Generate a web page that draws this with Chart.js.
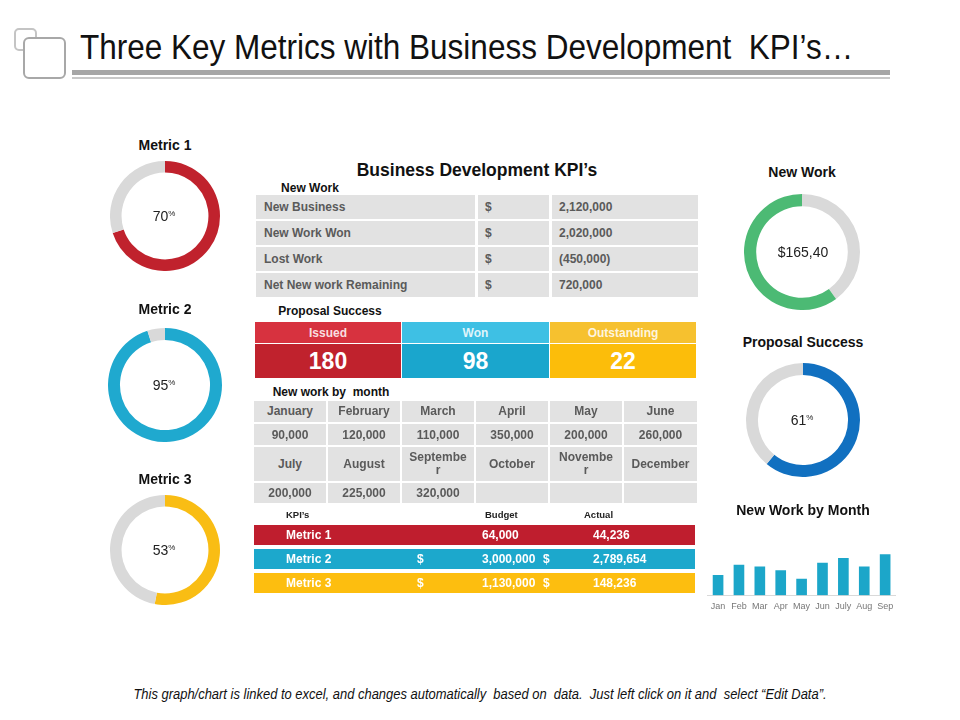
<!DOCTYPE html>
<html><head><meta charset="utf-8">
<script src="https://cdn.jsdelivr.net/npm/chart.js@4/dist/chart.umd.min.js"></script>
<style>
body{margin:0;width:960px;height:720px;background:#fff;position:relative;overflow:hidden;font-family:"Liberation Sans",Arial,sans-serif;}
.a{position:absolute;}
.cell{position:absolute;box-sizing:border-box;font-weight:bold;font-size:12px;color:#5a5a5a;display:flex;align-items:center;}
.lbl{position:absolute;font-weight:bold;color:#111;white-space:nowrap;transform:translate(-50%,-50%);}
.ctr{position:absolute;font-size:14px;color:#222;white-space:nowrap;transform:translate(-50%,-50%);}
.ctr sup{font-size:8px;vertical-align:5px;}
</style></head><body>
<div class="a" style="left:14px;top:28px;width:19px;height:19px;border:2px solid #c4c4c4;border-radius:5px;"></div>
<div class="a" style="left:23px;top:37px;width:39px;height:38px;border:2px solid #a8a8a8;border-radius:6px;background:#fff;"></div>
<div class="a" style="left:80px;top:27px;font-family:'Liberation Sans Narrow','Arial Narrow',sans-serif;font-size:35px;color:#111;white-space:nowrap;transform:scaleX(0.9);transform-origin:0 0;">Three Key Metrics with Business Development&nbsp;&nbsp;KPI’s…</div>
<div class="a" style="left:72px;top:70px;width:818px;height:5px;background:#a6a6a6;"></div>
<div class="a" style="left:72px;top:77px;width:818px;height:2px;background:#c8c8c8;"></div>
<div id="root"></div>
<div class="a" style="left:0;top:686px;width:960px;text-align:center;font-family:'Liberation Sans Narrow','Arial Narrow',sans-serif;font-style:italic;font-size:14px;color:#111;transform:scaleX(0.925);transform-origin:480px 0;">This graph/chart is linked to excel, and changes automatically&nbsp; based on&nbsp; data.&nbsp; Just left click on it and&nbsp; select “Edit Data”.</div>
<script>
// ---------- data ----------
const metricNames = ['Metric 1', 'Metric 2', 'Metric 3'];
const metricPercents = [70, 95, 53];
const newWorkShare = [40, 60];           // [remaining, new work]
const newWorkText = '$165,40';
const proposalPercent = 61;
const newWorkRows = ['New Business', 'New Work Won', 'Lost Work', 'Net New work Remaining'];
const newWorkValues = ['2,120,000', '2,020,000', '(450,000)', '720,000'];
const proposalHeads = ['Issued', 'Won', 'Outstanding'];
const proposalCounts = [180, 98, 22];
const monthNames = ['January', 'February', 'March', 'April', 'May', 'June', 'July', 'August', 'September', 'October', 'November', 'December'];
const monthValues = ['90,000', '120,000', '110,000', '350,000', '200,000', '260,000', '200,000', '225,000', '320,000', '', '', ''];
const kpiNames = ['Metric 1', 'Metric 2', 'Metric 3'];
const kpiBudget = ['64,000', '3,000,000', '1,130,000'];
const kpiActual = ['44,236', '2,789,654', '148,236'];
const kpiDollar = [false, true, true];
const barMonths = ['Jan', 'Feb', 'Mar', 'Apr', 'May', 'Jun', 'July', 'Aug', 'Sep'];
const barValues = [21, 32, 30, 26, 17, 34, 39, 30, 43];

// ---------- styles ----------
const GRAY = '#d9d9d9';
const metricColors = ['#c0222d', '#1fa9cf', '#f9bd14'];
const root = document.getElementById('root');
function el(cls, style, html) {
  const d = document.createElement('div');
  d.className = cls; d.style.cssText = style; d.innerHTML = html || '';
  root.appendChild(d); return d;
}
function donut(cx, cy, r, values, colors) {
  const box = el('a', `left:${cx - r}px;top:${cy - r}px;width:${2 * r}px;height:${2 * r}px;`);
  const c = document.createElement('canvas'); box.appendChild(c);
  new Chart(c, {
    type: 'doughnut',
    data: { datasets: [{ data: values, backgroundColor: colors, borderWidth: 0 }] },
    options: { responsive: true, maintainAspectRatio: false, animation: false, cutout: '79%',
      layout: { padding: 0 }, plugins: { legend: { display: false }, tooltip: { enabled: false } } }
  });
}
// left metric donuts
const mPos = [[165, 216, 55, 145], [165, 385, 57, 309], [165, 550, 55, 479]];
metricNames.forEach((n, i) => {
  const [cx, cy, r, ly] = mPos[i];
  el('lbl', `left:${cx}px;top:${ly}px;font-size:14px;`, n);
  donut(cx, cy, r, [metricPercents[i], 100 - metricPercents[i]], [metricColors[i], GRAY]);
  el('ctr', `left:${cx - 1}px;top:${cy}px;`, metricPercents[i] + '<sup>%</sup>');
});
// right donuts
el('lbl', 'left:802px;top:172px;font-size:14px;', 'New Work');
donut(802, 252, 58, newWorkShare, [GRAY, '#4cba74']);
el('ctr', 'left:803px;top:252px;', newWorkText);
el('lbl', 'left:803px;top:342px;font-size:14px;', 'Proposal Success');
donut(803, 420, 57, [proposalPercent, 100 - proposalPercent], ['#1170c0', GRAY]);
el('ctr', 'left:802px;top:420px;', proposalPercent + '<sup>%</sup>');

// center title
el('lbl', 'left:477px;top:170px;font-size:17.5px;', 'Business Development KPI’s');
el('lbl', 'left:310px;top:188px;font-size:12px;', 'New Work');
// new work table
const nwCols = [[256, 475], [478, 549], [552, 698]];
const nwRows = [[195, 219], [221, 245], [247, 271], [273, 297]];
newWorkRows.forEach((name, i) => {
  const [t, b] = nwRows[i];
  const texts = [name, '$', newWorkValues[i]];
  nwCols.forEach(([l, r], j) => {
    el('cell', `left:${l}px;top:${t}px;width:${r - l}px;height:${b - t}px;background:#e2e2e2;padding-left:${j === 0 ? 8 : 7}px;`, texts[j]);
  });
});
// proposal success
el('lbl', 'left:330px;top:311px;font-size:12px;', 'Proposal Success');
const psCols = [[255, 401], [402, 549], [550, 696]];
const psHead = ['#d7323f', '#3ec0e4', '#f6c12f'];
const psVal = ['#c0222d', '#1aa6cd', '#fcbd0a'];
proposalHeads.forEach((h, j) => {
  const [l, r] = psCols[j];
  el('cell', `left:${l}px;top:322px;width:${r - l}px;height:21px;background:${psHead[j]};justify-content:center;color:rgba(255,255,255,0.85);font-size:12px;`, h);
  el('cell', `left:${l}px;top:344px;width:${r - l}px;height:34px;background:${psVal[j]};justify-content:center;color:#fff;font-size:23px;`, String(proposalCounts[j]));
});
// new work by month
el('lbl', 'left:331px;top:392px;font-size:12px;', 'New work by&nbsp; month');
const mCols = [[254, 326], [328, 400], [402, 474], [476, 548], [550, 622], [624, 697]];
const mRows = [[401, 422], [424, 445], [447, 481], [483, 503]];
const monthWrap = { September: 'Septembe<br>r', November: 'Novembe<br>r' };
for (let half = 0; half < 2; half++) {
  for (let j = 0; j < 6; j++) {
    const k = half * 6 + j;
    const [l, r] = mCols[j];
    const [t1, b1] = mRows[half * 2];
    const [t2, b2] = mRows[half * 2 + 1];
    const nm = monthWrap[monthNames[k]] || monthNames[k];
    el('cell', `left:${l}px;top:${t1}px;width:${r - l}px;height:${b1 - t1}px;background:#e2e2e2;justify-content:center;text-align:center;line-height:13px;`, nm);
    el('cell', `left:${l}px;top:${t2}px;width:${r - l}px;height:${b2 - t2}px;background:#e2e2e2;justify-content:center;`, monthValues[k]);
  }
}
// KPI table
el('a', 'left:286px;top:509px;font-size:9.5px;font-weight:bold;color:#222;', 'KPI’s');
el('a', 'left:485px;top:509px;font-size:9.5px;font-weight:bold;color:#222;', 'Budget');
el('a', 'left:584px;top:509px;font-size:9.5px;font-weight:bold;color:#222;', 'Actual');
const kRows = [[525, 545], [549, 569], [573, 593]];
const kColors = ['#bf1e2e', '#1ca8cc', '#fdbe0f'];
kpiNames.forEach((n, i) => {
  const [t, b] = kRows[i];
  const row = el('cell', `left:254px;top:${t}px;width:441px;height:${b - t}px;background:${kColors[i]};color:#fff;`, '');
  const put = (x, s) => { const d = document.createElement('div'); d.style.cssText = `position:absolute;left:${x - 254}px;top:50%;transform:translateY(-50%);white-space:nowrap;`; d.textContent = s; row.appendChild(d); };
  put(286, n);
  if (kpiDollar[i]) { put(417, '$'); put(543, '$'); }
  put(482, kpiBudget[i]);
  put(593, kpiActual[i]);
});

// bar chart
el('lbl', 'left:803px;top:510px;font-size:14px;', 'New Work by Month');
const bbox = el('a', 'left:705px;top:548px;width:194px;height:70px;');
const bc = document.createElement('canvas'); bbox.appendChild(bc);
new Chart(bc, {
  type: 'bar',
  data: { labels: barMonths, datasets: [{ data: barValues, backgroundColor: '#1ca6c9', barThickness: 10 }] },
  options: {
    responsive: true, maintainAspectRatio: false, animation: false,
    layout: { padding: 0 },
    plugins: { legend: { display: false }, tooltip: { enabled: false } },
    scales: {
      y: { display: false, min: 0, max: 50 },
      x: { grid: { display: false, drawTicks: false }, border: { color: '#d9d9d9' },
        ticks: { color: '#777', font: { size: 9, family: 'Liberation Sans' }, padding: 6, maxRotation: 0, autoSkip: false } }
    }
  }
});
</script>
</body></html>
